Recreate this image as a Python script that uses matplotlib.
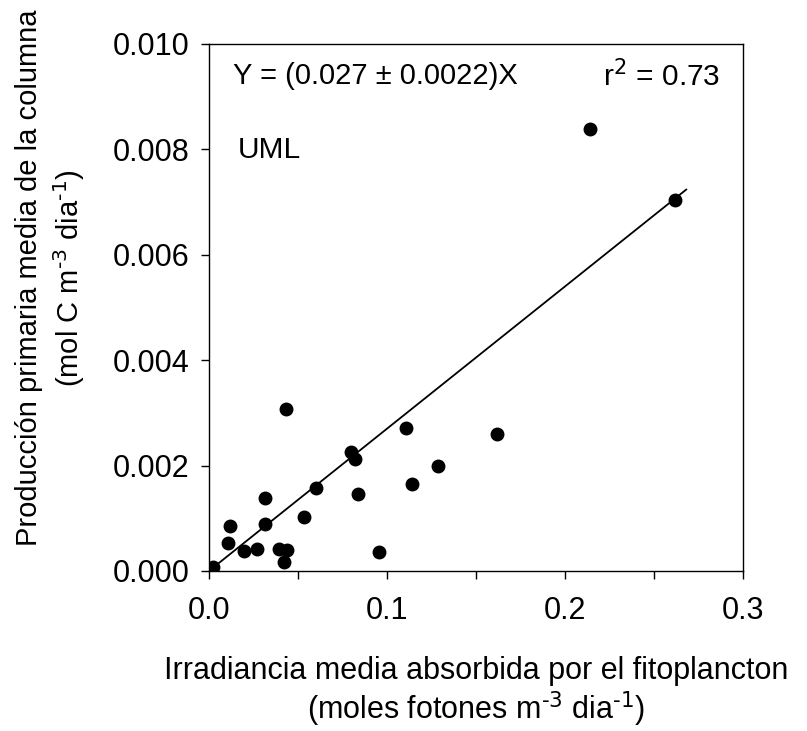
import numpy as np
import matplotlib.pyplot as plt
from matplotlib.ticker import MultipleLocator

plt.rcParams['font.family'] = ['Liberation Sans', 'DejaVu Sans']

# irradiancia media absorbida (moles fotones m-3 dia-1)
irradiancia = [0.0024, 0.0108, 0.0118, 0.0198, 0.0268, 0.0395, 0.0440, 0.0421,
               0.0315, 0.0315, 0.0434, 0.0535, 0.0603, 0.0800, 0.0820, 0.0839,
               0.0955, 0.1107, 0.1139, 0.1288, 0.1618, 0.2140, 0.2618]
# produccion primaria media de la columna (mol C m-3 dia-1)
produccion = [0.00008, 0.00053, 0.00086, 0.00038, 0.00042, 0.00042, 0.00040, 0.00016,
              0.00089, 0.00138, 0.00308, 0.00103, 0.00157, 0.00226, 0.00212, 0.00146,
              0.00035, 0.00271, 0.00165, 0.00200, 0.00260, 0.00839, 0.00704]

pendiente = 0.027
x_ajuste = np.array([0.002, 0.268])

fig = plt.figure(figsize=(8.07, 7.31), dpi=100)
ax = fig.add_axes([0.259, 0.219, 0.662, 0.721])

ax.plot(irradiancia, produccion, 'o', color='black', markersize=9, zorder=3)
ax.plot(x_ajuste, pendiente * x_ajuste, color='black', linewidth=1.3)

ax.set_xlim(0, 0.3)
ax.set_ylim(0, 0.010)
ax.xaxis.set_major_locator(MultipleLocator(0.1))
ax.xaxis.set_minor_locator(MultipleLocator(0.05))
ax.yaxis.set_major_locator(MultipleLocator(0.002))
ax.xaxis.set_major_formatter(plt.FuncFormatter(lambda v, p: f'{v:.1f}'))
ax.yaxis.set_major_formatter(plt.FuncFormatter(lambda v, p: f'{v:.3f}'))
ax.tick_params(axis='both', which='both', direction='out', length=6, width=1,
               labelsize=22, pad=8)
ax.tick_params(axis='x', which='major', pad=12)

for s in ax.spines.values():
    s.set_linewidth(1)

ax.text(0.045, 0.939, 'Y = (0.027 ± 0.0022)X', transform=ax.transAxes,
        fontsize=21, va='center')
ax.text(0.738, 0.939, r'r$^{\text{2}}$ = 0.73', transform=ax.transAxes,
        fontsize=21.5, va='center')
ax.text(0.054, 0.799, 'UML', transform=ax.transAxes, fontsize=21.5, va='center')

ax.set_xlabel('Irradiancia media absorbida por el fitoplancton\n'
              r'(moles fotones m$^{\text{-3}}$ dia$^{\text{-1}}$)', fontsize=22,
              linespacing=1.1)
ax.xaxis.set_label_coords(0.5, -0.162)
ax.set_ylabel('Producción primaria media de la columna\n'
              r'(mol C m$^{\text{-3}}$ dia$^{\text{-1}}$)', fontsize=21,
              linespacing=1.3)
ax.yaxis.set_label_coords(-0.228, 0.556)

fig.savefig('out.png', dpi=100)
